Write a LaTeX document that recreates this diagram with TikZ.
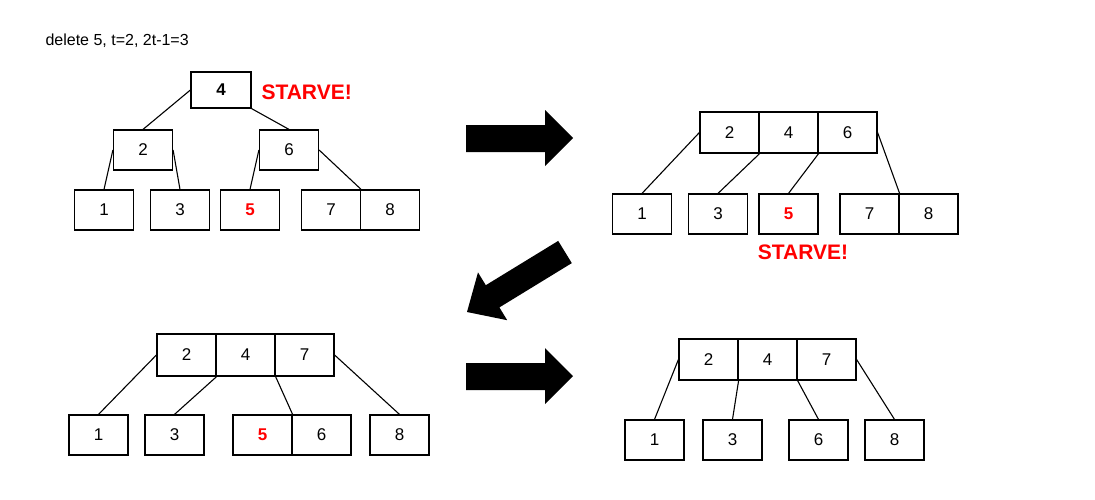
\documentclass[tikz,border=0pt]{standalone}
\usepackage{fontspec}
\setmainfont{Liberation Sans}
\begin{document}
\begin{tikzpicture}[x=1pt,y=-1pt,
  bx/.style={draw,line width=1.2pt,minimum width=59pt,minimum height=40pt,inner sep=0pt,font=\fontsize{17}{20}\selectfont},
  red5/.style={text=red,font=\fontsize{17}{20}\selectfont\bfseries},
  ln/.style={line width=1.1pt},
  starve/.style={text=red,font=\fontsize{21}{24}\selectfont\bfseries}]
\useasboundingbox (0,0) rectangle (1095,499);
\node[anchor=west,font=\fontsize{16}{19}\selectfont] (title) at (42,41) {delete 5, t=2, 2t-1=3};
% tree 1
\node[bx,minimum width=60pt,minimum height=36pt,font=\fontsize{17}{20}\selectfont\bfseries] (a4) at (221,90) {4};
\node[starve,anchor=west] (s1) at (258,92) {STARVE!};
\node[bx] (a2) at (143,150) {2};
\node[bx] (a6) at (289,150) {6};
\node[bx] (a1) at (104,210) {1};
\node[bx] (a3) at (180,210) {3};
\node[bx,red5] (a5) at (250,210) {5};
\node[bx] (a7) at (331,210) {7};
\node[bx] (a8) at (390,210) {8};
\draw[ln] (a4.west) -- (a2.north);
\draw[ln] (a4.south east) -- (a6.north);
\draw[ln] (a2.west) -- (a1.north);
\draw[ln] (a2.east) -- (a3.north);
\draw[ln] (a6.west) -- (a5.north);
\draw[ln] (a6.east) -- (a7.north east);
% arrow 1
\fill (466,125) -- (545,125) -- (545,110) -- (573,138) -- (545,166) -- (545,152) -- (466,152) -- cycle;
% tree 2
\node[bx,minimum height=41pt] (b2) at (729.5,132.5) {2};
\node[bx,minimum height=41pt] (b4) at (788.5,132.5) {4};
\node[bx,minimum height=41pt] (b6) at (847.5,132.5) {6};
\node[bx] (b1) at (642,214) {1};
\node[bx] (b3) at (718,214) {3};
\node[bx,red5] (b5) at (788.5,214) {5};
\node[bx] (b7) at (869.5,214) {7};
\node[bx] (b8) at (928.5,214) {8};
\node[starve] (s2) at (803,252) {STARVE!};
\draw[ln] (b2.west) -- (b1.north);
\draw[ln] (b2.south east) -- (b3.north);
\draw[ln] (b4.south east) -- (b5.north);
\draw[ln] (b6.east) -- (b7.north east);
% diagonal arrow
\fill (571.8,263.1) -- (499.4,307.4) -- (507.2,320.2) -- (467,312) -- (478.0,272.4) -- (485.8,285.2) -- (558.2,240.9) -- cycle;
% tree 3
\node[bx,minimum height=42pt] (c2) at (186.5,355) {2};
\node[bx,minimum height=42pt] (c4) at (245.5,355) {4};
\node[bx,minimum height=42pt] (c7) at (304.5,355) {7};
\node[bx] (c1) at (98.5,435) {1};
\node[bx] (c3) at (174.5,435) {3};
\node[bx,red5] (c5) at (262.5,435) {5};
\node[bx] (c6) at (321.5,435) {6};
\node[bx] (c8) at (399.5,435) {8};
\draw[ln] (c2.west) -- (c1.north);
\draw[ln] (c2.south east) -- (c3.north);
\draw[ln] (c4.south east) -- (c5.north east);
\draw[ln] (c7.east) -- (c8.north);
% arrow 3
\fill (466,363) -- (545,363) -- (545,348) -- (573,376) -- (545,404) -- (545,390) -- (466,390) -- cycle;
% tree 4
\node[bx,minimum height=41pt] (d2) at (708.5,359.5) {2};
\node[bx,minimum height=41pt] (d4) at (767.5,359.5) {4};
\node[bx,minimum height=41pt] (d7) at (826.5,359.5) {7};
\node[bx] (d1) at (654.5,440) {1};
\node[bx] (d3) at (732.5,440) {3};
\node[bx] (d6) at (818.5,440) {6};
\node[bx] (d8) at (894.5,440) {8};
\draw[ln] (d2.west) -- (d1.north);
\draw[ln] (d2.south east) -- (d3.north);
\draw[ln] (d4.south east) -- (d6.north);
\draw[ln] (d7.east) -- (d8.north);
\end{tikzpicture}
\end{document}
